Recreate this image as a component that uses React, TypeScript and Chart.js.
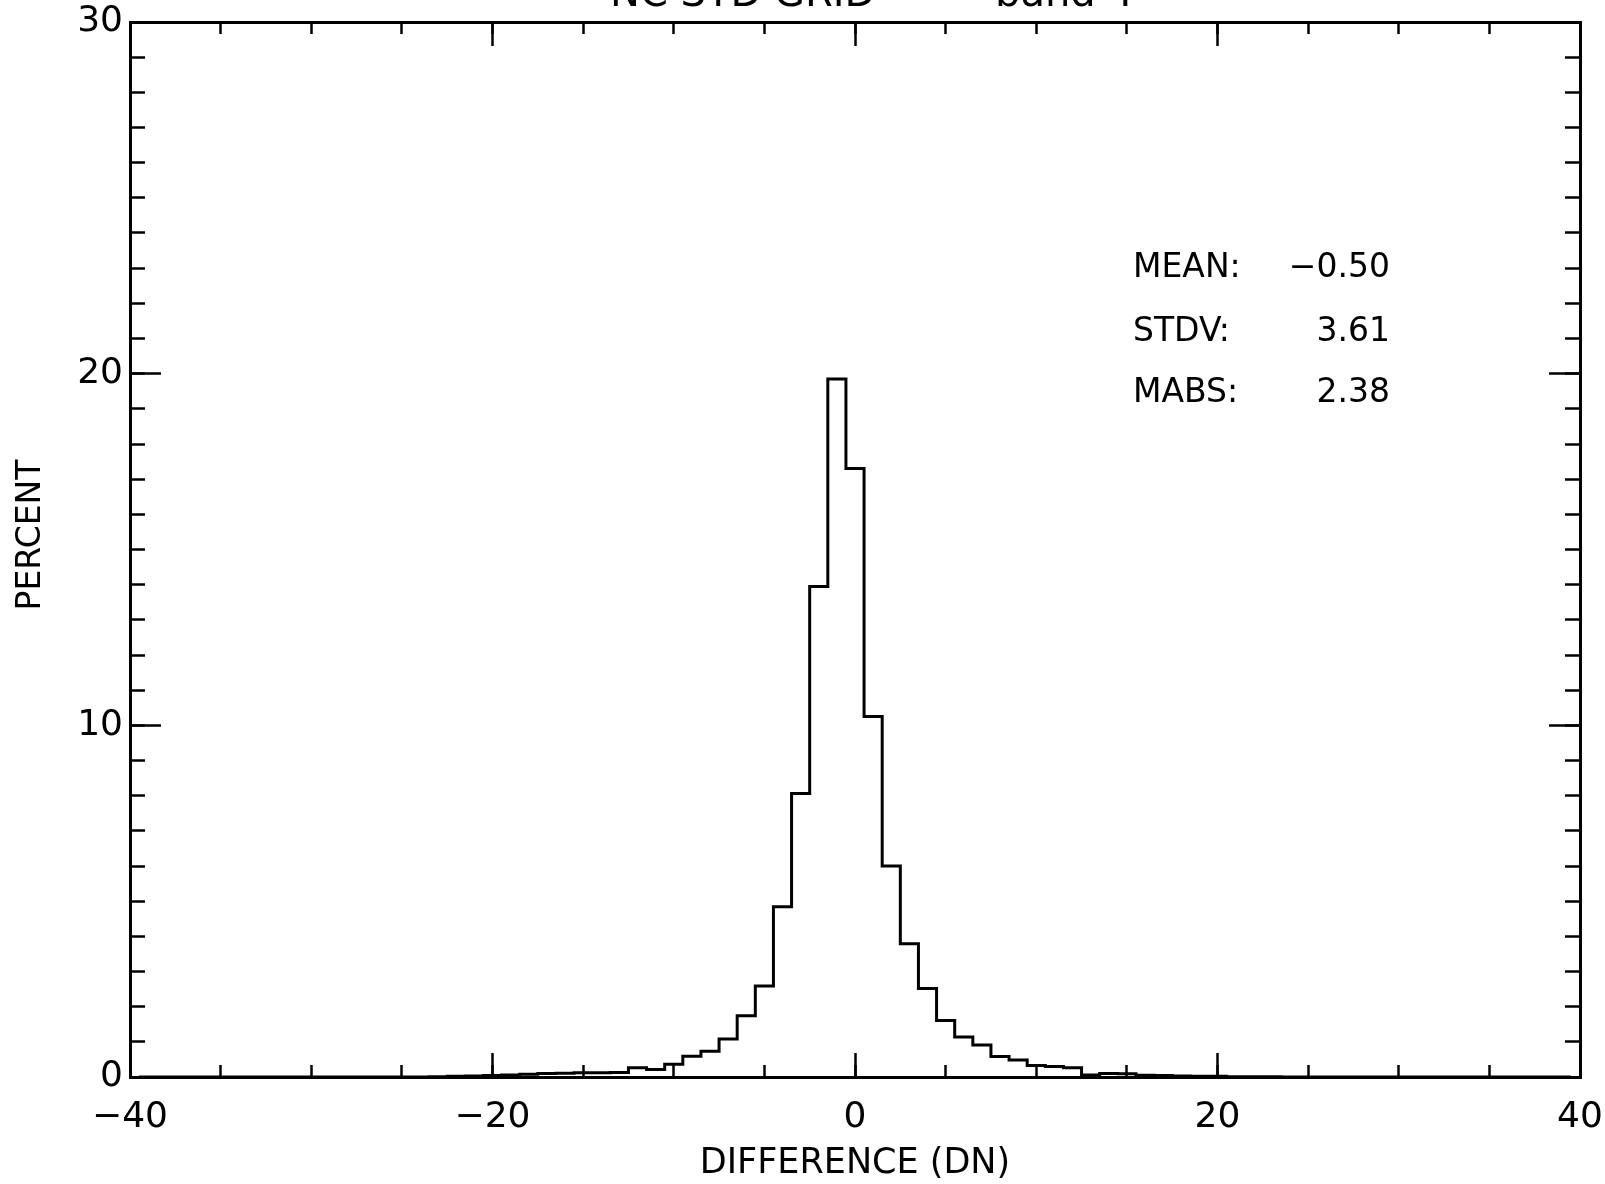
import React, { useEffect, useRef } from "react";
import { Chart, registerables } from "chart.js";

Chart.register(...registerables);

// ---- data ----
const binCenters = [
  -39, -38, -37, -36, -35, -34, -33, -32, -31, -30,
  -29, -28, -27, -26, -25, -24, -23, -22, -21, -20,
  -19, -18, -17, -16, -15, -14, -13, -12, -11, -10,
  -9, -8, -7, -6, -5, -4, -3, -2, -1, 0,
  1, 2, 3, 4, 5, 6, 7, 8, 9, 10,
  11, 12, 13, 14, 15, 16, 17, 18, 19, 20,
  21, 22, 23, 24, 25, 26, 27, 28, 29, 30,
  31, 32, 33, 34, 35, 36, 37, 38, 39,
];

const percent = [
  0, 0, 0, 0, 0, 0, 0, 0, 0, 0,
  0, 0, 0, 0, 0, 0, 0.01, 0.02, 0.03, 0.04,
  0.06, 0.08, 0.1, 0.11, 0.12, 0.12, 0.13, 0.26, 0.21, 0.36,
  0.59, 0.73, 1.08, 1.74, 2.59, 4.84, 8.06, 13.95, 19.85, 17.3,
  10.25, 6.0, 3.79, 2.52, 1.61, 1.14, 0.91, 0.58, 0.48, 0.33,
  0.3, 0.26, 0.06, 0.1, 0.09, 0.05, 0.04, 0.03, 0.02, 0.02,
  0.01, 0.01, 0.01, 0, 0, 0, 0, 0, 0, 0,
  0, 0, 0, 0, 0, 0, 0, 0, 0,
];

const binWidth = 1;
const xRange = [-40, 40];
const yRange = [0, 30];
const xMajorStep = 20;
const xMinorStep = 5;
const yMajorStep = 10;
const yMinorStep = 1;

const statLabels = ["MEAN:", "STDV:", "MABS:"];
const statValues = ["\u22120.50", "3.61", "2.38"];

const titleParts = ["NC STD GRID", "\u2014", "band 4"];
const xTitle = "DIFFERENCE (DN)";
const yTitle = "PERCENT";

const FONT = "'DejaVu Sans', 'Liberation Sans', sans-serif";

const fmt = (v: number) => (v < 0 ? "\u2212" + Math.abs(v) : String(v));

const CHART_LEFT = 130;
const CHART_TOP = 22;
const CHART_RIGHT_PAD = 25;
const CHART_BOTTOM = 1077;
const H = 1184;

export default function App() {
  const ref = useRef<HTMLCanvasElement | null>(null);

  useEffect(() => {
    if (!ref.current) return;

    // step outline points: each bin's left edge holds its value
    const pts = binCenters.map((c, i) => ({ x: c - binWidth / 2, y: percent[i] }));
    pts.push({
      x: binCenters[binCenters.length - 1] + binWidth / 2,
      y: percent[percent.length - 1],
    });

    const textPlugin = {
      id: "texts",
      afterDraw(chart: any) {
        const ctx = chart.ctx;
        ctx.save();
        ctx.fillStyle = "#000";
        // stats block
        ctx.font = `33px ${FONT}`;
        ctx.textBaseline = "middle";
        const rows = [268, 332, 393];
        statLabels.forEach((l, i) => {
          ctx.textAlign = "left";
          ctx.fillText(l, 1133, rows[i]);
          ctx.textAlign = "right";
          ctx.fillText(statValues[i], 1390, rows[i]);
        });
        // y axis title
        ctx.save();
        ctx.font = `33px ${FONT}`;
        ctx.textAlign = "center";
        ctx.textBaseline = "middle";
        ctx.translate(31, 535);
        ctx.rotate(-Math.PI / 2);
        ctx.fillText(yTitle, 0, 0);
        ctx.restore();
        // title (cut off at the top in the reference)
        ctx.font = `40px ${FONT}`;
        ctx.textBaseline = "alphabetic";
        ctx.textAlign = "left";
        ctx.fillText(titleParts[0], 610, 6);
        ctx.fillText(titleParts[1], 930, 6);
        ctx.fillText(titleParts[2], 995, 6);
        ctx.restore();
      },
    };

    const tickFont = { family: FONT, size: 36, lineHeight: 1 };
    const black = "#000";

    const grid = (len: number) => ({
      display: true,
      drawOnChartArea: false,
      drawTicks: true,
      tickLength: len,
      tickWidth: 2.5,
      tickColor: black,
    });

    const fixH = (h: number) => (s: any) => {
      s.height = h;
      s.paddingLeft = 0;
      s.paddingRight = 0;
      s.paddingTop = 0;
      s.paddingBottom = 0;
    };
    const fixW = (w: number) => (s: any) => {
      s.width = w;
      s.paddingLeft = 0;
      s.paddingRight = 0;
      s.paddingTop = 0;
      s.paddingBottom = 0;
    };

    const chart = new Chart(ref.current, {
      type: "line",
      data: {
        datasets: [
          {
            data: pts,
            stepped: true,
            borderColor: black,
            borderWidth: 3,
            pointRadius: 0,
            fill: false,
            xAxisID: "x",
            yAxisID: "y",
          } as any,
        ],
      },
      plugins: [textPlugin],
      options: {
        responsive: false,
        animation: false,
        devicePixelRatio: 1,
        layout: { padding: { top: CHART_TOP, right: CHART_RIGHT_PAD, left: 0, bottom: 0 } },
        plugins: { legend: { display: false }, tooltip: { enabled: false }, title: { display: false } },
        scales: {
          x: {
            type: "linear",
            axis: "x",
            position: "bottom",
            weight: 10,
            min: xRange[0],
            max: xRange[1],
            ticks: {
              stepSize: xMajorStep,
              font: tickFont,
              color: black,
              padding: 47,
              autoSkip: false,
              maxRotation: 0,
              callback: (v: any) => fmt(Number(v)),
            },
            grid: grid(-24),
            border: { display: true, color: black, width: 3 },
            title: {
              display: true,
              text: xTitle,
              color: black,
              font: { family: FONT, size: 35, lineHeight: 1 },
              padding: { top: 0, bottom: 3 },
            },
            afterFit: fixH(H - CHART_BOTTOM),
          },
          xMinor: {
            type: "linear",
            axis: "x",
            position: "bottom",
            weight: 0,
            min: xRange[0],
            max: xRange[1],
            ticks: { stepSize: xMinorStep, display: false },
            grid: grid(-12),
            border: { display: false },
            afterFit: fixH(0),
          },
          xTop: {
            type: "linear",
            axis: "x",
            position: "top",
            weight: 0,
            min: xRange[0],
            max: xRange[1],
            ticks: { stepSize: xMajorStep, display: false },
            grid: grid(-24),
            border: { display: true, color: black, width: 3 },
            afterFit: fixH(0),
          },
          xTopMinor: {
            type: "linear",
            axis: "x",
            position: "top",
            weight: 1,
            min: xRange[0],
            max: xRange[1],
            ticks: { stepSize: xMinorStep, display: false },
            grid: grid(-12),
            border: { display: false },
            afterFit: fixH(0),
          },
          y: {
            type: "linear",
            axis: "y",
            position: "left",
            weight: 10,
            min: yRange[0],
            max: yRange[1],
            ticks: {
              stepSize: yMajorStep,
              font: tickFont,
              color: black,
              padding: 38,
              autoSkip: false,
              callback: (v: any) => fmt(Number(v)),
            },
            grid: grid(-31),
            border: { display: true, color: black, width: 3 },
            afterFit: fixW(CHART_LEFT),
          },
          yMinor: {
            type: "linear",
            axis: "y",
            position: "left",
            weight: 0,
            min: yRange[0],
            max: yRange[1],
            ticks: { stepSize: yMinorStep, display: false },
            grid: grid(-15),
            border: { display: false },
            afterFit: fixW(0),
          },
          yRight: {
            type: "linear",
            axis: "y",
            position: "right",
            weight: 0,
            min: yRange[0],
            max: yRange[1],
            ticks: { stepSize: yMajorStep, display: false },
            grid: grid(-31),
            border: { display: true, color: black, width: 3 },
            afterFit: fixW(0),
          },
          yRightMinor: {
            type: "linear",
            axis: "y",
            position: "right",
            weight: 1,
            min: yRange[0],
            max: yRange[1],
            ticks: { stepSize: yMinorStep, display: false },
            grid: grid(-15),
            border: { display: false },
            afterFit: fixW(0),
          },
        } as any,
      },
    });

    return () => chart.destroy();
  }, []);

  return (
    <div
      style={{
        position: "absolute",
        left: 0,
        top: 0,
        width: 1605,
        height: 1184,
        background: "#fff",
        overflow: "hidden",
      }}
    >
      <canvas ref={ref} width={1605} height={1184} style={{ display: "block" }} />
    </div>
  );
}
